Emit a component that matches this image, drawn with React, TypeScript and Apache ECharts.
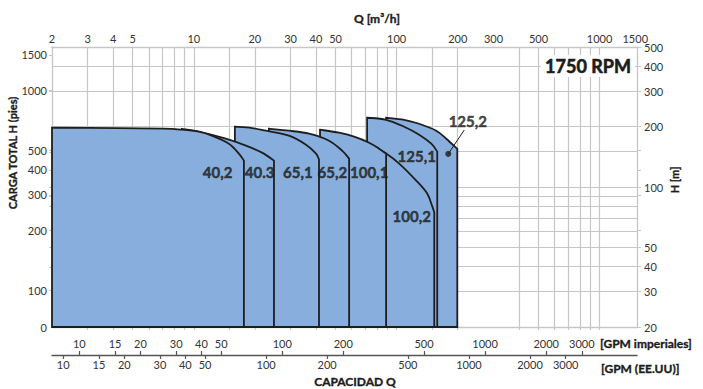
import React, { useEffect, useRef } from "react";
import * as echarts from "echarts";

// ---------------- data ----------------
const Q_MIN = 2;
const Q_MAX = 1530;
const H_MIN = 20;
const H_MAX = 500;
const FT_PER_M = 3.2808;
const M3H_PER_IMP_GPM = 0.272765;
const M3H_PER_US_GPM = 0.227125;

const topTickLabels = [2, 3, 4, 5, 10, 20, 30, 40, 50, 100, 200, 300, 500, 1000, 1500];
const verticalGridQ = [3, 4, 5, 6, 7, 8, 9, 10, 15, 20, 30, 40, 50, 60, 70, 80, 90, 100, 150, 200, 400, 500, 600, 700, 800, 900, 1000];
const horizontalGridH = [30, 40, 50, 60, 70, 80, 90, 100, 150, 200, 300, 400];
const rightTickLabels = [20, 30, 40, 50, 100, 200, 300, 400, 500];
const rightMinorTicksM = [152.4, 121.9, 91.4, 61.0];
const leftTickLabelsFt = [100, 200, 300, 400, 500, 1000, 1500];
const leftMinorTicksFt = [131, 164, 262, 295, 328, 492, 984];
const gpmImpLabels = [10, 15, 20, 30, 40, 50, 100, 200, 500, 1000, 2000, 3000];
const gpmUsLabels = [10, 15, 20, 30, 40, 50, 100, 200, 500, 1000, 2000, 3000];

// pump curves: Q [m3/h], H [m]  (drawn bottom -> top)
const q_125_2 = [88.7, 108.9, 129.1, 156.7, 175.6, 199.0];
const h_125_2 = [221.7, 216.6, 206.9, 191.0, 174.2, 155.0];
const q_125_1 = [71.5, 88.7, 108.9, 129.1, 148.1, 158.5];
const h_125_1 = [221.7, 216.6, 200.0, 182.5, 164.5, 150.2];
const q_100_2 = [58.3, 73.1, 88.7, 102.9, 124.8, 141.4, 149.8, 153.2];
const h_100_2 = [180.0, 165.0, 146.8, 130.9, 107.7, 92.8, 80.0, 74.7];
const q_100_1 = [41.9, 52.0, 61.7, 73.1, 81.9, 88.7];
const h_100_1 = [193.2, 186.7, 178.3, 166.4, 155.4, 146.8];
const q_65_2 = [23.46, 29.45, 36.98, 46.42, 53.8, 58.3];
const h_65_2 = [195.5, 191.0, 184.6, 170.3, 151.9, 138.7];
const q_65_1 = [15.94, 19.34, 22.68, 29.45, 35.73, 40.05, 41.42];
const h_65_1 = [200.0, 197.0, 191.0, 180.4, 162.6, 146.8, 137.0];
const q_40_3 = [8.73, 10.95, 14.39, 18.06, 21.67, 24.84];
const h_40_3 = [195.0, 187.5, 174.2, 160.8, 148.5, 135.4];
const q_40_2 = [2, 4.26, 7.03, 8.73, 10.58, 12.27, 14.89, 16.68, 17.66];
const h_40_2 = [197.7, 196.6, 195.5, 193.2, 188.8, 180.4, 164.5, 146.8, 135.4];

const pumpQ = [q_125_2, q_125_1, q_100_2, q_100_1, q_65_2, q_65_1, q_40_3, q_40_2];
const pumpH = [h_125_2, h_125_1, h_100_2, h_100_1, h_65_2, h_65_1, h_40_3, h_40_2];

// model labels
const labelNames = ["40,2", "40.3", "65,1", "65,2", "100,1", "100,2", "125,1", "125,2"];
const labelQ = [13.1, 21.1, 32.6, 48.2, 73.2, 118.6, 125.6, 224.2];
const labelH = [119.4, 119.4, 119.4, 119.4, 119.4, 71.7, 143.5, 214.0];
const pointerQ = [179.6, 215.4];
const pointerH = [146.3, 192.6];

// ---------------- styles ----------------
const FONT = "Lato, 'Open Sans', sans-serif";
const GRID = "#c6c6c6";
const TXT = "#333";
const FILL = "#87aedc";
const EDGE = "#1e1e1e";
const INK = "#1c1c1c";

const lg = (v: number) => Math.log10(v);

function catmull(pts: number[][]): string {
  let d = "";
  for (let i = 0; i < pts.length - 1; i++) {
    const p0 = pts[i - 1] || pts[i];
    const p1 = pts[i];
    const p2 = pts[i + 1];
    const p3 = pts[i + 2] || p2;
    const t = 1 / 6;
    const c1x = p1[0] + (p2[0] - p0[0]) * t;
    const c1y = p1[1] + (p2[1] - p0[1]) * t;
    const c2x = p2[0] - (p3[0] - p1[0]) * t;
    const c2y = p2[1] - (p3[1] - p1[1]) * t;
    d += ` C ${c1x} ${c1y} ${c2x} ${c2y} ${p2[0]} ${p2[1]}`;
  }
  return d;
}

const tickFont = { color: TXT, fontSize: 11, fontFamily: FONT };
const ftMinLog = lg(H_MIN * FT_PER_M);

function buildOption(): any {
  const xCommon = { type: "value", min: lg(Q_MIN), max: lg(Q_MAX), gridIndex: 0 };
  const impPos = gpmImpLabels.map((g) => lg(g * M3H_PER_IMP_GPM));
  const usPos = gpmUsLabels.map((g) => lg(g * M3H_PER_US_GPM));

  const title = (text: string, x: number, y: number, align: string, size: number, rotation = 0) => ({
    type: "text",
    x,
    y,
    rotation,
    style: {
      text,
      fontFamily: FONT,
      fontWeight: "bold",
      fontSize: size,
      fill: INK,
      stroke: INK,
      lineWidth: 0.35,
      align,
      verticalAlign: "middle",
    },
  });

  return {
    animation: false,
    backgroundColor: "#fff",
    grid: { left: 52, right: 66, top: 47, bottom: 62, containLabel: false, outerBoundsMode: "none" },
    xAxis: [
      {
        ...xCommon,
        position: "top",
        axisLine: { show: true, lineStyle: { color: GRID, width: 1.3 } },
        axisTick: { show: false },
        splitLine: { show: false },
        axisLabel: {
          customValues: topTickLabels.map(lg),
          formatter: (v: number) => String(Math.round(Math.pow(10, v))),
          margin: 3,
          ...tickFont,
        },
      },
      {
        ...xCommon,
        position: "bottom",
        axisLine: { show: true, lineStyle: { color: GRID, width: 1.3 } },
        axisTick: { show: true, customValues: verticalGridQ.map(lg), length: 3, lineStyle: { color: GRID, width: 1.2 } },
        axisLabel: { show: false },
        splitLine: { show: true, lineStyle: { color: GRID, width: 1.2 } },
      },
      {
        ...xCommon,
        position: "bottom",
        offset: 28,
        axisLine: { show: true, lineStyle: { color: "#555", width: 1.4 } },
        axisTick: { show: true, inside: true, length: 4, customValues: impPos, lineStyle: { color: "#555", width: 1.2 } },
        axisLabel: {
          inside: true,
          customValues: impPos,
          formatter: (v: number) => String(Math.round(Math.pow(10, v) / M3H_PER_IMP_GPM)),
          margin: 6,
          ...tickFont,
        },
        splitLine: { show: false },
      },
      {
        ...xCommon,
        position: "bottom",
        offset: 28,
        axisLine: { show: false },
        axisTick: { show: true, length: 4, customValues: usPos, lineStyle: { color: "#555", width: 1.2 } },
        axisLabel: {
          customValues: usPos,
          formatter: (v: number) => String(Math.round(Math.pow(10, v) / M3H_PER_US_GPM)),
          margin: 4,
          ...tickFont,
        },
        splitLine: { show: false },
      },
    ],
    yAxis: [
      {
        type: "value",
        position: "left",
        min: ftMinLog,
        max: lg(H_MAX * FT_PER_M),
        axisLine: { show: true, lineStyle: { color: GRID, width: 1.3 } },
        axisTick: { show: true, length: 3, customValues: [...leftTickLabelsFt, ...leftMinorTicksFt].map(lg), lineStyle: { color: GRID } },
        axisLabel: {
          customValues: [ftMinLog, ...leftTickLabelsFt.map(lg)],
          formatter: (v: number) => (Math.abs(v - ftMinLog) < 1e-6 ? "0" : String(Math.round(Math.pow(10, v)))),
          margin: 5,
          ...tickFont,
        },
        splitLine: { show: false },
      },
      {
        type: "value",
        position: "right",
        min: lg(H_MIN),
        max: lg(H_MAX),
        axisLine: { show: true, lineStyle: { color: GRID, width: 1.3 } },
        axisTick: { show: true, length: 4, customValues: [...rightTickLabels, ...rightMinorTicksM].map(lg), lineStyle: { color: GRID } },
        axisLabel: {
          customValues: rightTickLabels.map(lg),
          formatter: (v: number) => String(Math.round(Math.pow(10, v))),
          margin: 7,
          ...tickFont,
        },
        splitLine: { show: false },
      },
      {
        type: "value",
        position: "right",
        min: lg(H_MIN),
        max: lg(H_MAX),
        axisLine: { show: false },
        axisTick: { show: false, customValues: horizontalGridH.map(lg) },
        axisLabel: { show: false },
        splitLine: { show: true, lineStyle: { color: GRID, width: 1.2 } },
      },
    ],
    series: [
      {
        type: "custom",
        coordinateSystem: "cartesian2d",
        xAxisIndex: 1,
        yAxisIndex: 1,
        silent: true,
        data: pumpQ.map((q, i) => [lg(q[0]), lg(pumpH[i][0]), i]),
        renderItem: (params: any, api: any) => {
          const idx = api.value(2);
          const qs = pumpQ[idx];
          const hs = pumpH[idx];
          const pts = qs.map((q, k) => api.coord([lg(q), lg(hs[k])]));
          const base = api.coord([lg(qs[0]), lg(H_MIN)])[1];
          const first = pts[0];
          const last = pts[pts.length - 1];
          const d =
            `M ${first[0]} ${base} L ${first[0]} ${first[1]}` +
            catmull(pts) +
            ` L ${last[0]} ${base} Z`;
          return {
            type: "path",
            shape: { pathData: d },
            style: { fill: FILL, stroke: EDGE, lineWidth: 1.8, lineJoin: "miter" },
          };
        },
        z: 3,
      },
      {
        type: "line",
        xAxisIndex: 1,
        yAxisIndex: 1,
        silent: true,
        symbol: "none",
        data: pointerQ.map((q, i) => [lg(q), lg(pointerH[i])]),
        lineStyle: { color: EDGE, width: 1 },
        z: 5,
      },
      {
        type: "scatter",
        xAxisIndex: 1,
        yAxisIndex: 1,
        silent: true,
        symbolSize: 6,
        data: [[lg(pointerQ[0]), lg(pointerH[0])]],
        itemStyle: { color: EDGE },
        z: 6,
      },
      {
        type: "scatter",
        xAxisIndex: 1,
        yAxisIndex: 1,
        silent: true,
        symbolSize: 1,
        itemStyle: { color: "rgba(0,0,0,0)" },
        data: labelQ.map((q, i) => ({ value: [lg(q), lg(labelH[i])], name: labelNames[i] })),
        label: {
          show: true,
          position: "inside",
          formatter: "{b}",
          fontFamily: FONT,
          fontWeight: "bold",
          fontSize: 15,
          color: INK,
          textBorderColor: INK,
          textBorderWidth: 0.5,
        },
        z: 7,
      },
    ],
    graphic: [
      title("Q [m³/h]", 377, 18, "center", 12),
      title("CAPACIDAD Q", 355, 381, "center", 12),
      title("[GPM imperiales]", 600, 343, "left", 12),
      title("[GPM (EE.UU)]", 601, 368, "left", 12),
      title("CARGA TOTAL H (pies)", 12, 153, "center", 11, Math.PI / 2),
      title("H [m]", 674, 180, "center", 11, Math.PI / 2),
      {
        type: "rect",
        z: 9,
        shape: { x: 541, y: 55, width: 94, height: 22 },
        style: { fill: "#fff" },
      },
      {
        type: "text",
        x: 588,
        y: 66,
        z: 10,
        style: {
          text: "1750 RPM",
          fontFamily: FONT,
          fontWeight: "bold",
          fontSize: 18,
          fill: INK,
          stroke: INK,
          lineWidth: 0.6,
          align: "center",
          verticalAlign: "middle",
        },
      },
    ],
  };
}

export default function App() {
  const ref = useRef<HTMLDivElement>(null);
  useEffect(() => {
    const chart = echarts.init(ref.current as HTMLDivElement, null, { renderer: "svg" });
    chart.setOption(buildOption());
    return () => chart.dispose();
  }, []);
  return (
    <div
      ref={ref}
      style={{ position: "fixed", left: 0, top: 0, width: 703, height: 389, background: "#fff" }}
    />
  );
}
